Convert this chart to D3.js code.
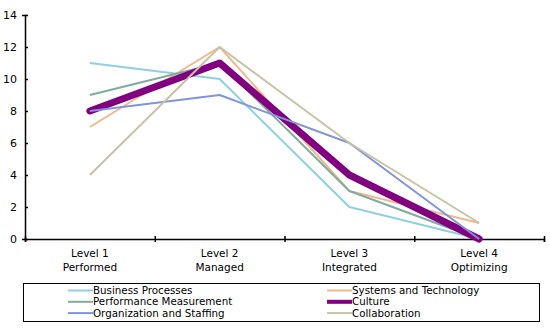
<!DOCTYPE html>
<html>
<head>
<meta charset="utf-8">
<script src="https://cdn.jsdelivr.net/npm/d3@7.9.0/dist/d3.min.js"></script>
<style>
  body { margin: 0; background: #fff; }
  svg { display: block; font-family: "DejaVu Sans", Verdana, sans-serif; }
</style>
</head>
<body>
<svg id="chart" width="550" height="330"></svg>
<script>
// maturity levels along the x axis (two-line labels)
const levels = ["Level 1", "Level 2", "Level 3", "Level 4"];
const levelNames = ["Performed", "Managed", "Integrated", "Optimizing"];
const yTicks = [0, 2, 4, 6, 8, 10, 12, 14];

// one value per level for each dimension
const businessProcesses = [11, 10, 2, 0];
const systemsTechnology = [7, 12, 3, 1];
const performanceMeasurement = [9, 11, 3, 0];
const culture = [8, 11, 4, 0];
const organizationStaffing = [8, 9, 6, 0];
const collaboration = [4, 12, 6, 1];

const series = [
  { name: "Business Processes", values: businessProcesses, color: "#8dd0e0", width: 2 },
  { name: "Systems and Technology", values: systemsTechnology, color: "#efb98c", width: 2 },
  { name: "Performance Measurement", values: performanceMeasurement, color: "#82ab9f", width: 2 },
  { name: "Culture", values: culture, color: "#800080", width: 7 },
  { name: "Organization and Staffing", values: organizationStaffing, color: "#8095d8", width: 2 },
  { name: "Collaboration", values: collaboration, color: "#c9c2a6", width: 2 }
];

const svg = d3.select("#chart");
const plot = { left: 25, right: 544, top: 15, bottom: 239 };

const x = d3.scaleBand().domain(levels).range([plot.left, plot.right]);
const y = d3.scaleLinear().domain([0, 14]).range([plot.bottom, plot.top]);

// y axis, ticks crossing the axis line
const yAxis = svg.append("g")
  .attr("transform", `translate(${plot.left},0)`)
  .call(d3.axisLeft(y).tickValues(yTicks).tickSize(3).tickPadding(5));
yAxis.selectAll(".tick line").attr("x2", 3).attr("stroke-width", 1.5);
yAxis.select(".domain").attr("stroke-width", 1.5);
yAxis.selectAll("text").attr("font-size", 11).attr("fill", "#000")
  .attr("font-family", "DejaVu Sans, Verdana, sans-serif");

// x axis: tick marks on the category boundaries
const xb = d3.scaleLinear().domain([0, levels.length]).range([plot.left, plot.right]);
const xAxis = svg.append("g")
  .attr("transform", `translate(0,${plot.bottom})`)
  .call(d3.axisBottom(xb).ticks(levels.length).tickSize(3).tickFormat(""));
xAxis.selectAll(".tick line").attr("y1", -3).attr("stroke-width", 1.5);
xAxis.select(".domain").attr("stroke-width", 1.5);

const labels = svg.append("g")
  .attr("font-size", 10.5)
  .attr("text-anchor", "middle");
labels.selectAll("text")
  .data(levels)
  .join("text")
  .attr("x", d => x(d) + x.bandwidth() / 2)
  .attr("y", 257)
  .each(function(d, i) {
    const t = d3.select(this);
    t.append("tspan").attr("x", x(d) + x.bandwidth() / 2).text(d);
    t.append("tspan").attr("x", x(d) + x.bandwidth() / 2).attr("dy", 14).text(levelNames[i]);
  });

// lines
const line = d3.line()
  .x((d, i) => x(levels[i]) + x.bandwidth() / 2)
  .y(d => y(d));

svg.append("g")
  .selectAll("path")
  .data(series)
  .join("path")
  .attr("d", d => line(d.values))
  .attr("fill", "none")
  .attr("stroke", d => d.color)
  .attr("stroke-width", d => d.width)
  .attr("stroke-linejoin", "round")
  .attr("stroke-linecap", d => d.width > 3 ? "round" : "butt");

// legend box, two columns
const legend = svg.append("g");
legend.append("rect")
  .attr("x", 23.5).attr("y", 283.5)
  .attr("width", 516).attr("height", 38)
  .attr("fill", "#fff").attr("stroke", "#000").attr("stroke-width", 1);

const colX = [68, 327];
const items = legend.selectAll("g.item")
  .data(series)
  .join("g")
  .attr("class", "item")
  .attr("transform", (d, i) => `translate(${colX[i % 2]},${290.5 + Math.floor(i / 2) * 11.3})`);
items.append("line")
  .attr("x1", 0).attr("x2", 25)
  .attr("stroke", d => d.color)
  .attr("stroke-width", d => d.width > 3 ? 4 : 2);
items.append("text")
  .attr("x", 25)
  .attr("dy", "0.35em")
  .attr("font-size", 10.3)
  .text(d => d.name);
</script>
</body>
</html>
